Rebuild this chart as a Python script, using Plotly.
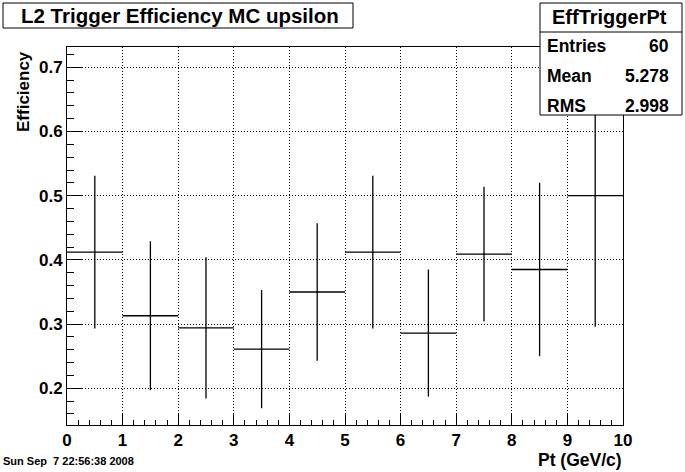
import plotly.graph_objects as go

# ---- data ----
pt_centers = [0.5, 1.5, 2.5, 3.5, 4.5, 5.5, 6.5, 7.5, 8.5, 9.5]
bin_halfwidth = [0.5] * 10
efficiency = [0.412, 0.313, 0.294, 0.261, 0.350, 0.412, 0.286, 0.409, 0.385, 0.500]
eff_error = [0.119, 0.116, 0.110, 0.092, 0.107, 0.119, 0.099, 0.105, 0.135, 0.204]

title_text = "L2 Trigger Efficiency MC upsilon"
stats_name = "EffTriggerPt"
stats_labels = ["Entries", "Mean", "RMS"]
stats_values = ["60", "5.278", "2.998"]
date_text = "Sun Sep \u00a07 22:56:38 2008"

W, H = 685, 472
L, R, T, B = 67, 623, 47, 425  # plot area in pixels

def px(x):
    return (x - L) / (R - L)

def py(y):
    return (B - y) / (B - T)

FONT = "Liberation Sans, Arial, Helvetica, sans-serif"

fig = go.Figure()
fig.add_trace(go.Scatter(
    x=pt_centers, y=efficiency,
    mode="markers",
    marker=dict(size=1, color="black"),
    error_x=dict(type="data", array=bin_halfwidth, width=0, thickness=1.3, color="black"),
    error_y=dict(type="data", array=eff_error, width=0, thickness=1.3, color="black"),
    showlegend=False, hoverinfo="skip",
))

axis_common = dict(
    showline=True, linecolor="black", linewidth=1, mirror=True,
    ticks="inside", tickcolor="black", tickwidth=1,
    showgrid=True, gridcolor="black", griddash="1px,2px", gridwidth=1,
    zeroline=False,
    tickfont=dict(family=FONT, size=17, color="black", weight="bold"),
)

fig.update_xaxes(range=[0, 10], tick0=0, dtick=1, ticklen=11,
                 minor=dict(ticks="inside", dtick=0.2, ticklen=5, tickcolor="black", showgrid=False),
                 **axis_common)
fig.update_yaxes(range=[0.1428, 0.7316], tick0=0, dtick=0.1, ticklen=15, tickformat=".1f",
                 minor=dict(ticks="inside", dtick=0.02, ticklen=7, tickcolor="black", showgrid=False),
                 **axis_common)

shapes = [
    # title box
    dict(type="rect", xref="paper", yref="paper", x0=px(3), x1=px(353), y0=py(28), y1=py(3),
         line=dict(color="black", width=1), fillcolor="white", layer="above"),
    # stats box
    dict(type="rect", xref="paper", yref="paper", x0=px(540), x1=px(682), y0=py(115), y1=py(3),
         line=dict(color="black", width=1), fillcolor="white", layer="above"),
    dict(type="line", xref="paper", yref="paper", x0=px(540), x1=px(682), y0=py(32), y1=py(32),
         line=dict(color="black", width=1), layer="above"),
]

ann = []
ann.append(dict(text="<b>" + title_text + "</b>", x=px(179.5), y=py(15.5), xref="paper", yref="paper",
                xanchor="center", yanchor="middle", showarrow=False,
                font=dict(family=FONT, size=20.5, color="black")))
ann.append(dict(text="<b>" + stats_name + "</b>", x=px(609), y=py(17.5), xref="paper", yref="paper",
                xanchor="center", yanchor="middle", showarrow=False,
                font=dict(family=FONT, size=20, color="black")))
for i, (lab, val) in enumerate(zip(stats_labels, stats_values)):
    yy = 46 + i * 30
    ann.append(dict(text="<b>" + lab + "</b>", x=px(545), y=py(yy), xref="paper", yref="paper",
                    xanchor="left", yanchor="middle", showarrow=False,
                    font=dict(family=FONT, size=17.5, color="black")))
    ann.append(dict(text="<b>" + val + "</b>", x=px(671), y=py(yy), xref="paper", yref="paper",
                    xanchor="right", yanchor="middle", showarrow=False,
                    font=dict(family=FONT, size=17.5, color="black")))
# axis titles
ann.append(dict(text="<b>Efficiency</b>", x=px(23.5), y=py(49), xref="paper", yref="paper",
                xanchor="center", yanchor="top", textangle=-90, showarrow=False,
                font=dict(family=FONT, size=17, color="black")))
ann.append(dict(text="<b>Pt (GeV/c)</b>", x=px(624), y=py(460), xref="paper", yref="paper",
                xanchor="right", yanchor="middle", showarrow=False,
                font=dict(family=FONT, size=17.5, color="black")))
ann.append(dict(text="<b>" + date_text + "</b>", x=px(1), y=py(461), xref="paper", yref="paper",
                xanchor="left", yanchor="middle", showarrow=False,
                font=dict(family=FONT, size=11, color="black")))

fig.update_layout(
    width=W, height=H,
    margin=dict(l=L, r=W - R, t=T, b=H - B, pad=0),
    paper_bgcolor="white", plot_bgcolor="white",
    shapes=shapes, annotations=ann,
    showlegend=False,
)

fig.write_html("out.html", config={"displayModeBar": False},
               post_script="document.body.style.margin='0';document.body.style.padding='0';")
